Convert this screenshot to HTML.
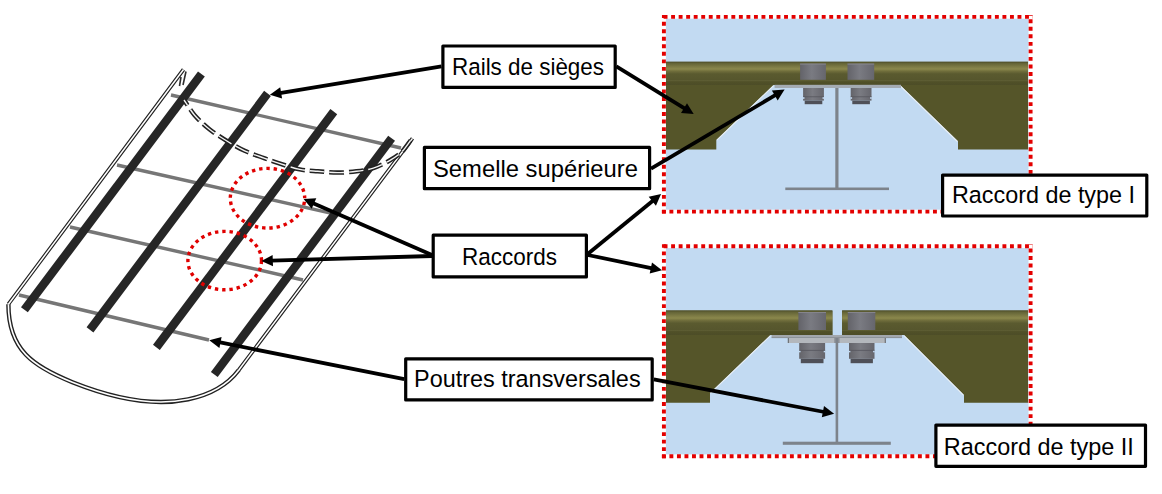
<!DOCTYPE html>
<html><head><meta charset="utf-8">
<style>
html,body{margin:0;padding:0;background:#fff;width:1162px;height:494px;overflow:hidden}
svg{display:block}
text{font-family:"Liberation Sans",sans-serif;fill:#000}
</style></head>
<body>
<svg width="1162" height="494" viewBox="0 0 1162 494">
<defs>
<linearGradient id="gfl" x1="0" y1="0" x2="0" y2="1">
<stop offset="0" stop-color="#4a4a26"/>
<stop offset="0.06" stop-color="#636336"/>
<stop offset="0.2" stop-color="#7a7843"/>
<stop offset="0.31" stop-color="#8b884c"/>
<stop offset="0.41" stop-color="#6f6d3b"/>
<stop offset="0.52" stop-color="#5a5a2f"/>
<stop offset="0.78" stop-color="#56562d"/>
<stop offset="0.81" stop-color="#5d5d33"/>
<stop offset="0.86" stop-color="#505028"/>
<stop offset="1" stop-color="#4d4d27"/>
</linearGradient>
<linearGradient id="gbolt" x1="0" y1="0" x2="1" y2="0">
<stop offset="0" stop-color="#636369"/>
<stop offset="0.45" stop-color="#7a7b82"/>
<stop offset="1" stop-color="#66666d"/>
</linearGradient>
</defs>

<!-- ===== LEFT DRAWING ===== -->
<!-- beams -->
<g stroke="#767676" stroke-width="3.4" fill="none">
<line x1="171" y1="95" x2="401" y2="148"/>
<line x1="117" y1="165" x2="334" y2="213.8"/>
<line x1="70" y1="227" x2="303" y2="280"/>
<line x1="19" y1="295" x2="209" y2="340"/>
</g>
<!-- frame -->
<g fill="none" stroke-linecap="butt" stroke-linejoin="round">
<path d="M183.5,69.5 L8.4,304.2 M238.8,370 L412.5,138.4" stroke="#222" stroke-width="3.8"/>
<path d="M8.4,304.2 C8.4,350.2 33.5,366.6 72.4,382.2 C175.0,423.1 223,391.0 238.8,370" stroke="#222" stroke-width="4.4"/>
<path d="M183.5,69.5 L8.4,304.2 M238.8,370 L412.5,138.4" stroke="#fff" stroke-width="1.5"/>
<path d="M8.4,304.2 C8.4,350.2 33.5,366.6 72.4,382.2 C175.0,423.1 223,391.0 238.8,370" stroke="#fff" stroke-width="1.6"/>
<path d="M186,71.5 L183,85 M181,77 L179.5,86" stroke="#2e2e2e" stroke-width="1.6"/>
</g>
<!-- rails -->
<g stroke="#262626" stroke-width="8.5" fill="none">
<line x1="201.4" y1="74" x2="24.4" y2="309.8"/>
<line x1="267.5" y1="93.4" x2="90" y2="329.9"/>
<line x1="333.8" y1="111.6" x2="156.4" y2="347.4"/>
<line x1="391.6" y1="138.2" x2="214.3" y2="374.5"/>
</g>
<!-- dashed double curve -->
<g fill="none">
<path d="M184,100 C186,102.5 190.8,110.9 194.6,115.2 C198.4,119.5 203.4,124.5 209.1,129.0 C214.8,133.5 222.6,138.4 228.5,142.0 C234.4,145.6 238.8,148.1 244.7,150.8 C250.6,153.5 258.6,156.1 264.1,158.1 C269.6,160.1 271.8,161.0 277.7,162.9 C283.6,164.8 293.0,168.0 299.7,169.4 C306.4,170.8 311.6,170.8 317.8,171.3 C324.0,171.8 330.7,172.6 337.1,172.6 C343.6,172.6 350.5,172.1 356.5,171.3 C362.5,170.6 367.7,169.9 373.3,168.1 C378.9,166.3 385.3,163.0 390.0,160.3 C394.7,157.6 398.2,155.3 401.7,152.0 C405.1,148.7 409.2,142.2 410.7,140.3" stroke="#222" stroke-width="4.5" stroke-dasharray="14.6 5" stroke-dashoffset="8.2"/>
<path d="M184,100 C186,102.5 190.8,110.9 194.6,115.2 C198.4,119.5 203.4,124.5 209.1,129.0 C214.8,133.5 222.6,138.4 228.5,142.0 C234.4,145.6 238.8,148.1 244.7,150.8 C250.6,153.5 258.6,156.1 264.1,158.1 C269.6,160.1 271.8,161.0 277.7,162.9 C283.6,164.8 293.0,168.0 299.7,169.4 C306.4,170.8 311.6,170.8 317.8,171.3 C324.0,171.8 330.7,172.6 337.1,172.6 C343.6,172.6 350.5,172.1 356.5,171.3 C362.5,170.6 367.7,169.9 373.3,168.1 C378.9,166.3 385.3,163.0 390.0,160.3 C394.7,157.6 398.2,155.3 401.7,152.0 C405.1,148.7 409.2,142.2 410.7,140.3" stroke="#f4f4f4" stroke-width="1.4" stroke-dasharray="14.6 5" stroke-dashoffset="8.2"/>
</g>
<!-- red dotted circles -->
<g fill="none" stroke="#e00000" stroke-width="3.4" stroke-dasharray="3.4 3.9">
<ellipse cx="267.5" cy="198.2" rx="37.2" ry="29.8" stroke-dashoffset="3.65"/>
<ellipse cx="224.7" cy="260.6" rx="36.8" ry="29.2"/>
</g>

<!-- ===== PANEL 1 ===== -->
<rect x="665.9" y="18.7" width="362.6" height="191" fill="#c2daf2"/>
<polygon points="666,61.8 1028,61.8 1028,149.5 958,149.5 958,141.3 900,85 773.6,85 716.3,140 716.3,149.5 666,149.5" fill="#555529"/>
<rect x="666" y="61.8" width="362" height="23.2" fill="url(#gfl)"/>
<path d="M773.6,85.6 L716.9,140.2 M900,85.6 L957.4,141.5" stroke="#e8eef5" stroke-width="1.1" fill="none"/>
<rect x="774.6" y="84.8" width="126.4" height="3.2" fill="#a4abb3"/>
<rect x="800.1" y="63.6" width="25.8" height="16.2" fill="url(#gbolt)"/>
<rect x="800.1" y="63.6" width="25.8" height="1" fill="#85858c"/>
<rect x="847.5" y="63.6" width="26.7" height="16.2" fill="url(#gbolt)"/>
<rect x="847.5" y="63.6" width="26.7" height="1" fill="#85858c"/>
<rect x="803.1" y="88" width="20.8" height="12.6" fill="url(#gbolt)"/>
<rect x="802.9" y="97.0" width="1.6" height="1.8" fill="#c2daf2"/>
<rect x="822.5" y="97.0" width="1.6" height="1.8" fill="#c2daf2"/>
<rect x="803.1" y="96.4" width="20.8" height="0.8" fill="#56565e"/>
<rect x="804.7" y="100.6" width="17.6" height="3.6" fill="#4f5058"/>
<rect x="850.7" y="88" width="20.8" height="12.6" fill="url(#gbolt)"/>
<rect x="850.5" y="97.0" width="1.6" height="1.8" fill="#c2daf2"/>
<rect x="870.1" y="97.0" width="1.6" height="1.8" fill="#c2daf2"/>
<rect x="850.7" y="96.4" width="20.8" height="0.8" fill="#56565e"/>
<rect x="852.3000000000001" y="100.6" width="17.6" height="3.6" fill="#4f5058"/>
<rect x="835.3" y="88" width="3.2" height="100" fill="#7d838b"/>
<rect x="785.3" y="187.5" width="103.7" height="2.6" fill="#7d838b"/>
<g stroke="#e30000" stroke-width="3.9" stroke-dasharray="3.9 3.63" fill="none">
<line x1="661.9" y1="16.9" x2="1032.8" y2="16.9" stroke-dashoffset="5.83"/>
<line x1="661.9" y1="211.6" x2="1032.8" y2="211.6" stroke-dashoffset="0.00"/>
<line x1="663.9" y1="14.999999999999998" x2="663.9" y2="213.5" stroke-dashoffset="0.80"/>
<line x1="1030.6" y1="14.999999999999998" x2="1030.6" y2="213.5" stroke-dashoffset="3.23"/>
</g>


<!-- ===== PANEL 2 ===== -->
<rect x="665.9" y="248.1" width="362.6" height="206.3" fill="#c2daf2"/>
<polygon points="666,310.5 832.4,310.5 832.4,335 770.5,335 710,393 710,402.8 666,402.8" fill="#555529"/>
<polygon points="842.1,310.5 1028,310.5 1028,402.8 964,402.8 964,395 904,335 842.1,335" fill="#555529"/>
<rect x="666" y="310.5" width="166.4" height="24.5" fill="url(#gfl)"/>
<rect x="842.1" y="310.5" width="185.9" height="24.5" fill="url(#gfl)"/>
<path d="M770.5,335.6 L710.6,393.2 M904,335.6 L963.4,395.2" stroke="#e8eef5" stroke-width="1.1" fill="none"/>
<rect x="771.6" y="335" width="130.4" height="3" fill="#a2a7ad"/>
<rect x="771.6" y="337.3" width="130.4" height="0.8" fill="#858a90"/>
<rect x="787.8" y="338" width="98.1" height="5" fill="#b3b7bc"/>
<rect x="787.8" y="338" width="1.2" height="5" fill="#707479"/>
<rect x="884.7" y="338" width="1.2" height="5" fill="#707479"/>
<rect x="834.2" y="337" width="5.4" height="6" fill="#8e9298"/>
<rect x="798.4" y="312" width="27.6" height="18.0" fill="url(#gbolt)"/>
<rect x="798.4" y="312" width="27.6" height="1" fill="#85858c"/>
<rect x="847.8" y="312" width="27.5" height="18.0" fill="url(#gbolt)"/>
<rect x="847.8" y="312" width="27.5" height="1" fill="#85858c"/>
<rect x="799.2" y="343" width="25.9" height="15.8" fill="url(#gbolt)"/>
<rect x="799.0" y="350.5" width="1.6" height="1.8" fill="#c2daf2"/>
<rect x="823.7" y="350.5" width="1.6" height="1.8" fill="#c2daf2"/>
<rect x="799.2" y="349.9" width="25.9" height="0.8" fill="#56565e"/>
<rect x="800.8000000000001" y="358.8" width="22.7" height="4.4" fill="#4f5058"/>
<rect x="849" y="343" width="25.5" height="15.8" fill="url(#gbolt)"/>
<rect x="848.8" y="350.5" width="1.6" height="1.8" fill="#c2daf2"/>
<rect x="873.1" y="350.5" width="1.6" height="1.8" fill="#c2daf2"/>
<rect x="849" y="349.9" width="25.5" height="0.8" fill="#56565e"/>
<rect x="850.6" y="358.8" width="22.3" height="4.4" fill="#4f5058"/>
<rect x="835.6" y="338" width="2.6" height="104" fill="#7d838b"/>
<rect x="782.8" y="441.7" width="108" height="3.1" fill="#7d838b"/>
<g stroke="#e30000" stroke-width="3.9" stroke-dasharray="3.9 3.63" fill="none">
<line x1="661.9" y1="246.2" x2="1032.8" y2="246.2" stroke-dashoffset="5.83"/>
<line x1="661.9" y1="456.3" x2="1032.8" y2="456.3" stroke-dashoffset="0.00"/>
<line x1="663.9" y1="244.29999999999998" x2="663.9" y2="458.2" stroke-dashoffset="0.40"/>
<line x1="1030.6" y1="244.29999999999998" x2="1030.6" y2="458.2" stroke-dashoffset="3.33"/>
</g>


<!-- ===== ARROWS ===== -->
<g id="arrows" stroke="#000" stroke-width="3.8" fill="#000">
<line x1="441.5" y1="66.4" x2="279.7" y2="93.1"/>
<polygon points="269.9,94.7 280.2,87.2 282.1,98.5" stroke="none"/>
<line x1="616.3" y1="66.4" x2="685.3" y2="108.9"/>
<polygon points="693.7,114.1 681.0,112.9 687.0,103.2" stroke="none"/>
<line x1="651.0" y1="168.6" x2="776.1" y2="94.7"/>
<polygon points="784.6,89.6 777.7,100.4 771.9,90.5" stroke="none"/>
<line x1="432.0" y1="255.0" x2="312.6" y2="202.9"/>
<polygon points="303.6,198.9 316.3,198.3 311.7,208.7" stroke="none"/>
<line x1="432.0" y1="256.0" x2="271.3" y2="260.6"/>
<polygon points="261.4,260.9 272.6,254.9 273.0,266.3" stroke="none"/>
<line x1="587.7" y1="254.0" x2="653.5" y2="200.3"/>
<polygon points="661.1,194.1 655.9,205.7 648.7,196.8" stroke="none"/>
<line x1="587.7" y1="255.0" x2="652.3" y2="268.3"/>
<polygon points="662.0,270.3 649.7,273.6 652.0,262.5" stroke="none"/>
<line x1="404.2" y1="379.2" x2="219.0" y2="342.2"/>
<polygon points="209.3,340.3 221.6,336.9 219.4,348.1" stroke="none"/>
<line x1="653.8" y1="379.4" x2="824.4" y2="412.0"/>
<polygon points="834.1,413.8 821.8,417.3 824.0,406.1" stroke="none"/>
</g>


<!-- ===== LABEL BOXES ===== -->
<g fill="#fff" stroke="#000" stroke-width="3.2" stroke-linejoin="round">
<rect x="442.9" y="46.0" width="172.3" height="41.4"/>
<rect x="424.4" y="147.4" width="225.2" height="41.3"/>
<rect x="433.2" y="235.2" width="153.2" height="41.7"/>
<rect x="405.7" y="358.8" width="246.5" height="41.1"/>
<rect x="942.6" y="175.1" width="204.2" height="40.9"/>
<rect x="935.9" y="425.1" width="209.6" height="41.2"/>
</g>
<g font-size="24.5">
<text x="452" y="75.1" textLength="152" lengthAdjust="spacingAndGlyphs">Rails de sièges</text>
<text x="433" y="177.1" textLength="205" lengthAdjust="spacingAndGlyphs">Semelle supérieure</text>
<text x="462" y="265" textLength="95" lengthAdjust="spacingAndGlyphs">Raccords</text>
<text x="414" y="387" textLength="226.6" lengthAdjust="spacingAndGlyphs">Poutres transversales</text>
<text x="952" y="203.4" textLength="183" lengthAdjust="spacingAndGlyphs">Raccord de type I</text>
<text x="943.8" y="454.7" textLength="190" lengthAdjust="spacingAndGlyphs">Raccord de type II</text>
</g>
</svg>
</body></html>
